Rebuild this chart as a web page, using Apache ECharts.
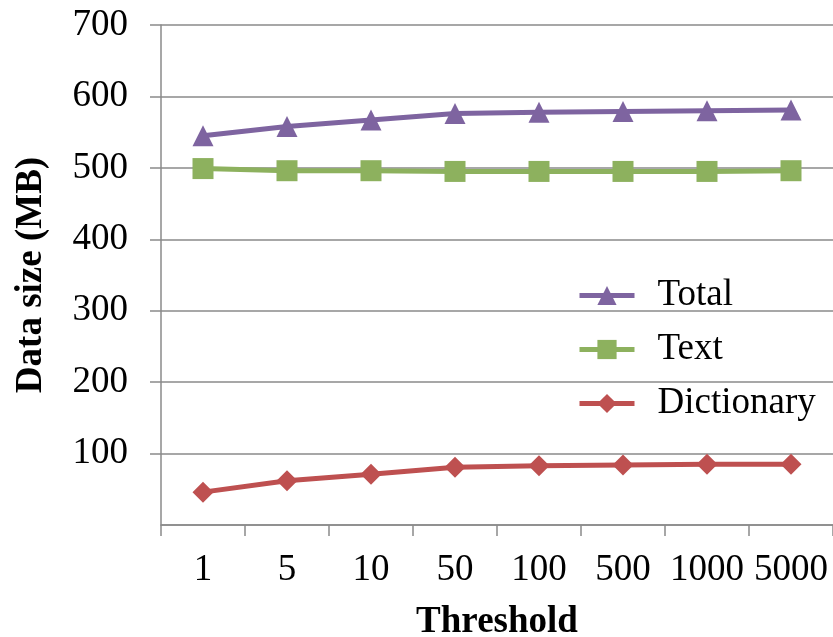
<!DOCTYPE html>
<html>
<head>
<meta charset="utf-8">
<script src="https://cdn.jsdelivr.net/npm/echarts@6/dist/echarts.min.js"></script>
<style>
  html, body { margin: 0; padding: 0; background: #fff; }
  #chart { width: 833px; height: 637px; }
</style>
</head>
<body>
<div id="chart"></div>
<script>
// Threshold categories and data sizes (MB)
const thresholds = ['1', '5', '10', '50', '100', '500', '1000', '5000'];
const totalMB = [545, 558, 567, 576, 578, 579, 580, 581];
const textMB = [499, 496, 496, 495, 495, 495, 495, 496];
const dictionaryMB = [46, 62, 71, 81, 83, 84, 85, 85];

const FONT = '"Liberation Serif", "Times New Roman", serif';
const GRID_GRAY = '#8a8a8a';

const chart = echarts.init(document.getElementById('chart'));

function lineSeries(name, data, color, symbol, size) {
  return {
    name: name,
    type: 'line',
    data: data,
    symbol: symbol,
    symbolSize: size,
    showAllSymbol: true,
    lineStyle: { color: color, width: 5 },
    itemStyle: { color: color },
    emphasis: { disabled: true },
    z: 3
  };
}

chart.setOption({
  animation: false,
  grid: {
    left: 161, right: 0, top: 25, bottom: 112,
    containLabel: false,
    outerBoundsMode: 'none'
  },
  legend: {
    orient: 'vertical',
    left: 572,
    top: 272,
    itemWidth: 55,
    itemHeight: 24,
    itemGap: 17,
    lineStyle: { width: 5 },
    textStyle: {
      fontFamily: FONT,
      fontSize: 37,
      color: '#000',
      lineHeight: 36,
      padding: [0, 0, 0, 18]
    },
    data: ['Total', 'Text', 'Dictionary']
  },
  xAxis: {
    type: 'category',
    data: thresholds,
    boundaryGap: true,
    name: 'Threshold',
    nameLocation: 'middle',
    nameGap: 79,
    nameTextStyle: { fontFamily: FONT, fontSize: 37, fontWeight: 'bold', color: '#000' },
    axisLine: { lineStyle: { color: GRID_GRAY, width: 1.5 } },
    axisTick: { show: true, length: 11, lineStyle: { color: GRID_GRAY, width: 1.5 } },
    axisLabel: { interval: 0, margin: 27, fontFamily: FONT, fontSize: 37, color: '#000' },
    splitLine: { show: false }
  },
  yAxis: {
    type: 'value',
    min: 0,
    max: 700,
    interval: 100,
    name: 'Data size (MB)',
    nameLocation: 'middle',
    nameGap: 111,
    nameTextStyle: { fontFamily: FONT, fontSize: 37, fontWeight: 'bold', color: '#000' },
    axisLine: { show: true, lineStyle: { color: GRID_GRAY, width: 1.5 } },
    axisTick: { show: true, length: 11, lineStyle: { color: GRID_GRAY, width: 1.5 } },
    axisLabel: { showMinLabel: false, margin: 33, fontFamily: FONT, fontSize: 37, color: '#000' },
    splitLine: { show: true, lineStyle: { color: GRID_GRAY, width: 1.5 } }
  },
  series: [
    lineSeries('Total', totalMB, '#7e64a0', 'triangle', 21),
    lineSeries('Text', textMB, '#8db15e', 'rect', 21),
    lineSeries('Dictionary', dictionaryMB, '#be5050', 'diamond', 21)
  ]
});
</script>
</body>
</html>
